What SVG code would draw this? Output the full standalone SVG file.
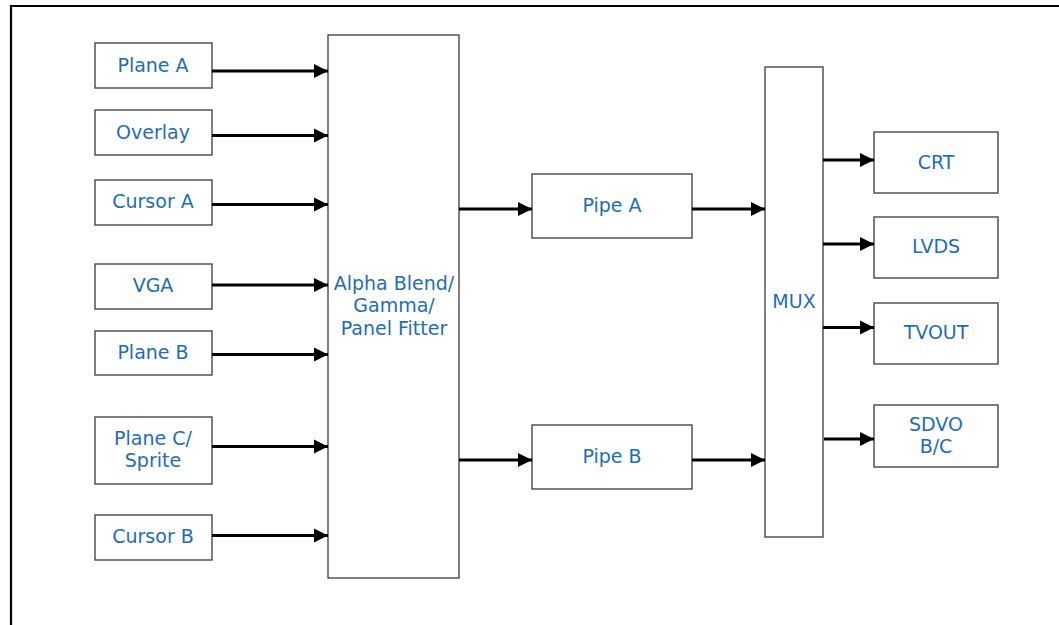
<svg xmlns="http://www.w3.org/2000/svg" width="1059" height="625" viewBox="0 0 1059 625">
<style>
.box{fill:#fff;stroke:#3a3a3a;stroke-width:1.3}
.t{font-family:"DejaVu Sans",Verdana,sans-serif;font-size:19px;fill:#1f6db5;text-anchor:middle}
.c{stroke:#000;stroke-width:3;fill:none;marker-end:url(#ah)}
</style>
<defs>
<marker id="ah" markerUnits="userSpaceOnUse" markerWidth="16" markerHeight="16" refX="14" refY="7.5" orient="auto">
<path d="M0,0.5 L14,7.5 L0,14.5 Z" fill="#000"/>
</marker>
</defs>
<rect width="1059" height="625" fill="#fff"/>
<path d="M11,625 V6 H1059" fill="none" stroke="#000" stroke-width="2.2"/>
<g id="plane-a"><rect class="box" x="95" y="43" width="117" height="45"/><text class="t" x="153" y="72">Plane A</text></g>
<g id="overlay"><rect class="box" x="95" y="110" width="117" height="45"/><text class="t" x="153" y="139">Overlay</text></g>
<g id="cursor-a"><rect class="box" x="95" y="180" width="117" height="45"/><text class="t" x="153" y="208">Cursor A</text></g>
<g id="vga"><rect class="box" x="95" y="264" width="117" height="45"/><text class="t" x="153" y="292">VGA</text></g>
<g id="plane-b"><rect class="box" x="95" y="331" width="117" height="44"/><text class="t" x="153" y="359">Plane B</text></g>
<g id="plane-c"><rect class="box" x="95" y="417" width="117" height="67"/><text class="t" x="153" y="445">Plane C/</text><text class="t" x="153" y="467">Sprite</text></g>
<g id="cursor-b"><rect class="box" x="95" y="515" width="117" height="45"/><text class="t" x="153" y="543">Cursor B</text></g>
<g id="blend"><rect class="box" x="328" y="35" width="131" height="543"/><text class="t" x="394" y="290">Alpha Blend/</text><text class="t" x="394" y="312">Gamma/</text><text class="t" x="394" y="335">Panel Fitter</text></g>
<g id="pipe-a"><rect class="box" x="532" y="174" width="160" height="64"/><text class="t" x="612" y="212">Pipe A</text></g>
<g id="pipe-b"><rect class="box" x="532" y="425" width="160" height="64"/><text class="t" x="612" y="463">Pipe B</text></g>
<g id="mux"><rect class="box" x="765" y="67" width="58" height="470"/><text class="t" x="794" y="308">MUX</text></g>
<g id="crt"><rect class="box" x="874" y="132" width="124" height="61"/><text class="t" x="936" y="169">CRT</text></g>
<g id="lvds"><rect class="box" x="874" y="217" width="124" height="61"/><text class="t" x="936" y="253">LVDS</text></g>
<g id="tvout"><rect class="box" x="874" y="303" width="124" height="61"/><text class="t" x="936" y="339">TVOUT</text></g>
<g id="sdvo"><rect class="box" x="874" y="405" width="124" height="62"/><text class="t" x="936" y="431">SDVO</text><text class="t" x="936" y="453">B/C</text></g>
<g id="connectors">
<line class="c" x1="212" y1="71" x2="328" y2="71"/>
<line class="c" x1="212" y1="135.5" x2="328" y2="135.5"/>
<line class="c" x1="212" y1="204.5" x2="328" y2="204.5"/>
<line class="c" x1="212" y1="285" x2="328" y2="285"/>
<line class="c" x1="212" y1="354.5" x2="328" y2="354.5"/>
<line class="c" x1="212" y1="446.5" x2="328" y2="446.5"/>
<line class="c" x1="212" y1="535.5" x2="328" y2="535.5"/>
<line class="c" x1="459" y1="209" x2="532" y2="209"/>
<line class="c" x1="459" y1="460" x2="532" y2="460"/>
<line class="c" x1="692" y1="209" x2="765" y2="209"/>
<line class="c" x1="692" y1="460" x2="765" y2="460"/>
<line class="c" x1="823" y1="160" x2="874" y2="160"/>
<line class="c" x1="823" y1="244" x2="874" y2="244"/>
<line class="c" x1="823" y1="327.5" x2="874" y2="327.5"/>
<line class="c" x1="824" y1="439" x2="874" y2="439"/>
</g>
</svg>
